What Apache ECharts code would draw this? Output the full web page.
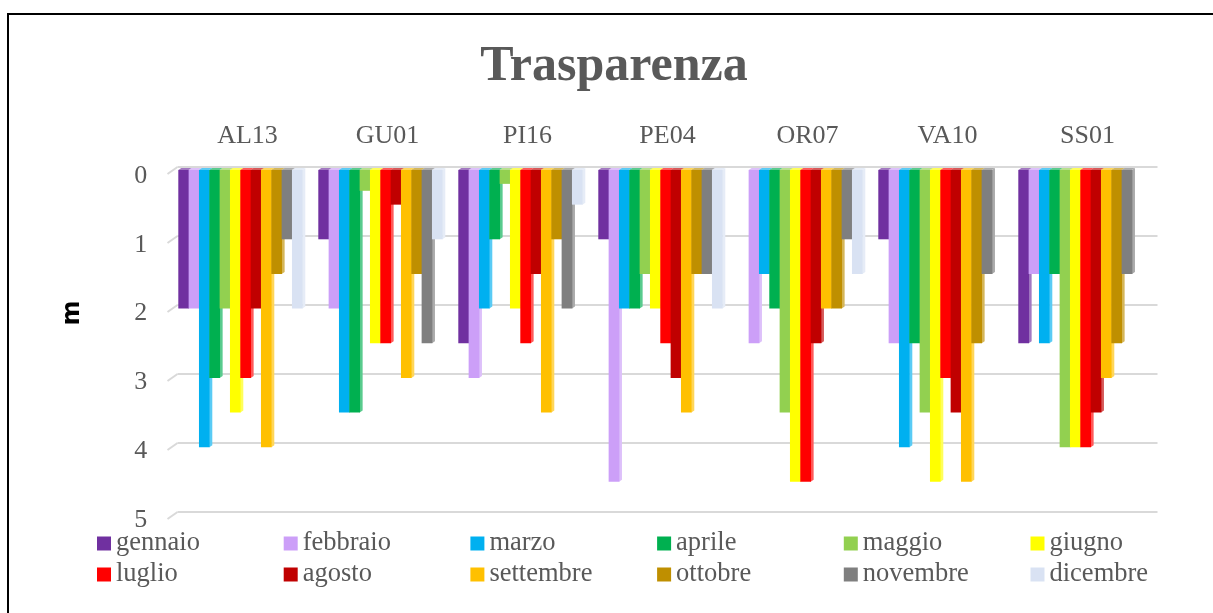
<!DOCTYPE html>
<html>
<head>
<meta charset="utf-8">
<title>Trasparenza</title>
<script src="https://cdn.jsdelivr.net/npm/echarts@6/dist/echarts.min.js"></script>
<style>
  html, body { margin: 0; padding: 0; background: #fff; }
  #chart { width: 1213px; height: 613px; }
</style>
</head>
<body>
<div id="chart"></div>
<script>
const stations = ['AL13', 'GU01', 'PI16', 'PE04', 'OR07', 'VA10', 'SS01'];
const months = ['gennaio', 'febbraio', 'marzo', 'aprile', 'maggio', 'giugno', 'luglio', 'agosto', 'settembre', 'ottobre', 'novembre', 'dicembre'];
const tickValues = [0, 1, 2, 3, 4, 5];

const gennaio = [2, 1, 2.5, 1, null, 1, 2.5];
const febbraio = [2, 2, 3, 4.5, 2.5, 2.5, 1.5];
const marzo = [4, 3.5, 2, 2, 1.5, 4, 2.5];
const aprile = [3, 3.5, 1, 2, 2, 2.5, 1.5];
const maggio = [2, 0.3, 0.2, 1.5, 3.5, 3.5, 4];
const giugno = [3.5, 2.5, 2, 2, 4.5, 4.5, 4];
const luglio = [3, 2.5, 2.5, 2.5, 4.5, 3, 4];
const agosto = [2, 0.5, 1.5, 3, 2.5, 3.5, 3.5];
const settembre = [4, 3, 3.5, 3.5, 2, 4.5, 3];
const ottobre = [1.5, 1.5, 1, 1.5, 2, 2.5, 2.5];
const novembre = [1, 2.5, 2, 1.5, 1, 1.5, 1.5];
const dicembre = [2, 1, 0.5, 2, 1.5, null, null];

const monthValues = [gennaio, febbraio, marzo, aprile, maggio, giugno, luglio, agosto, settembre, ottobre, novembre, dicembre];
const colors = ['#7030A0', '#CC9FF8', '#00B0F0', '#00B050', '#92D050', '#FFFF00', '#FF0000', '#C00000', '#FFC000', '#BF8F00', '#7F7F7F', '#D9E2F3'];

const textColor = '#595959';
const serif = '"Liberation Serif", serif';
const depthX = 3;
const depthY = 2;

const myChart = echarts.init(document.getElementById('chart'));

// finta barra 3D: faccia frontale, lato e bordo superiore
function renderBar(monthIndex) {
  return function (params, api) {
    const value = api.value(1);
    if (value == null || isNaN(value)) return null;
    const band = api.size([1, 0])[0];
    const w = band * 0.8857 / 12;
    const center = api.coord([api.value(0), 0]);
    const end = api.coord([api.value(0), value]);
    const x = center[0] - 6 * w + monthIndex * w;
    const y0 = center[1];
    const y1 = end[1];
    const base = colors[monthIndex];
    const dark = echarts.color.lift(base, 0.35);
    return {
      type: 'group',
      children: [
        {
          type: 'polygon',
          shape: { points: [[x + w, y0], [x + w + depthX, y0 - depthY], [x + w + depthX, y1 - depthY], [x + w, y1]] },
          style: { fill: dark }
        },
        {
          type: 'polygon',
          shape: { points: [[x, y0], [x + depthX, y0 - depthY], [x + w + depthX, y0 - depthY], [x + w, y0]] },
          style: { fill: dark }
        },
        {
          type: 'rect',
          shape: { x: x, y: y0, width: w + 0.4, height: y1 - y0 },
          style: { fill: base }
        }
      ]
    };
  };
}

// tratto obliquo a sinistra delle linee della griglia
function renderWallTick(params, api) {
  const left = params.coordSys.x;
  const y = api.coord([0, api.value(1)])[1];
  return {
    type: 'line',
    shape: { x1: left, y1: y, x2: left - 10, y2: y + 7 },
    style: { stroke: '#D9D9D9', lineWidth: 2 }
  };
}

const series = months.map((name, i) => ({
  name: name,
  type: 'custom',
  xAxisIndex: 0,
  yAxisIndex: 0,
  z: 5,
  itemStyle: { color: colors[i] },
  renderItem: renderBar(i),
  encode: { x: 0, y: 1 },
  data: monthValues[i].map((v, c) => [c, v])
}));

series.push({
  type: 'custom',
  xAxisIndex: 1,
  yAxisIndex: 1,
  z: 1,
  renderItem: renderWallTick,
  encode: { x: 0, y: 1 },
  data: tickValues.map(t => [0, t])
});

const legends = months.map((name, i) => ({
  data: [{ name: name, icon: 'rect' }],
  left: 97 + (i % 6) * 186.7,
  top: i < 6 ? 530 : 561,
  padding: 0,
  itemWidth: 14,
  itemHeight: 14,
  selectedMode: false,
  textStyle: { color: textColor, fontFamily: serif, fontSize: 26.5 }
}));

const option = {
  animation: false,
  backgroundColor: '#fff',
  color: colors,
  title: {
    text: 'Trasparenza',
    left: 609,
    top: 37,
    textAlign: 'center',
    textStyle: { color: textColor, fontFamily: serif, fontWeight: 'bold', fontSize: 50 }
  },
  legend: legends,
  grid: [
    { left: 170.3, right: 62.7, top: 170, height: 346.5 },
    { left: 177.5, right: 55.5, top: 167, height: 345 },
    { left: 170.3, right: 62.7, top: 176, height: 344 }
  ],
  xAxis: [
    {
      gridIndex: 0,
      type: 'category',
      data: stations,
      position: 'top',
      axisLine: { show: false },
      axisTick: { show: false },
      axisLabel: { show: false }
    },
    {
      gridIndex: 1,
      type: 'category',
      data: stations,
      position: 'top',
      axisLine: { show: false },
      axisTick: { show: false },
      axisLabel: { color: textColor, fontFamily: serif, fontSize: 26, margin: 18 }
    },
    {
      gridIndex: 2,
      type: 'category',
      data: stations,
      show: false
    }
  ],
  yAxis: [
    {
      gridIndex: 0,
      type: 'value',
      inverse: true,
      min: 0,
      max: 5,
      interval: 1,
      axisLine: { show: false },
      axisTick: { show: false },
      splitLine: { show: false },
      axisLabel: { show: false }
    },
    {
      gridIndex: 1,
      type: 'value',
      inverse: true,
      min: 0,
      max: 5,
      interval: 1,
      axisLine: { show: false },
      axisTick: { show: false },
      axisLabel: { show: false },
      splitLine: { show: true, lineStyle: { color: '#D9D9D9', width: 2 } }
    },
    {
      gridIndex: 2,
      type: 'value',
      inverse: true,
      min: 0,
      max: 5,
      interval: 1,
      name: 'm',
      nameLocation: 'middle',
      nameRotate: 90,
      nameGap: 86,
      nameTextStyle: { color: '#000', fontFamily: '"DejaVu Sans", sans-serif', fontWeight: 'bold', fontSize: 24, padding: [0, 0, 0, 70] },
      axisLine: { show: false },
      axisTick: { show: false },
      splitLine: { show: false },
      axisLabel: { color: textColor, fontFamily: serif, fontSize: 26, margin: 23 }
    }
  ],
  graphic: [
    { type: 'line', shape: { x1: 8, y1: 14, x2: 1213, y2: 14 }, style: { stroke: '#000', lineWidth: 2 }, silent: true },
    { type: 'line', shape: { x1: 8, y1: 13, x2: 8, y2: 613 }, style: { stroke: '#000', lineWidth: 2 }, silent: true }
  ],
  series: series
};

myChart.setOption(option);
</script>
</body>
</html>
